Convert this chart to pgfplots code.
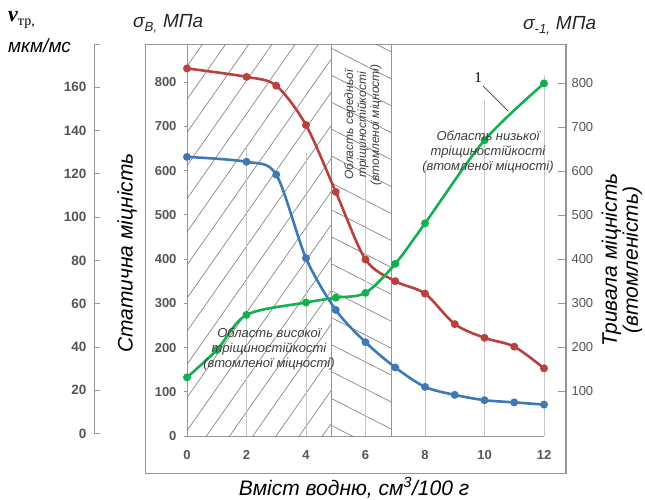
\documentclass[border=0pt]{standalone}
\usepackage{pgfplots}
\pgfplotsset{compat=1.18}
\usepackage{fontspec}
\setmainfont{Liberation Sans}
\newfontfamily\serif{Liberation Serif}
\usetikzlibrary{patterns.meta}

\definecolor{cred}{RGB}{184,64,62}
\definecolor{cblue}{RGB}{62,120,182}
\definecolor{cgreen}{RGB}{20,176,80}
\definecolor{axgray}{RGB}{150,150,150}
\definecolor{tickgray}{RGB}{85,85,85}
\definecolor{hatch}{RGB}{120,120,120}
\definecolor{txt}{RGB}{60,60,60}

\begin{document}
\begin{tikzpicture}
% frame
\draw[axgray, line width=0.8pt] (145pt,26pt) rectangle (566pt,455pt);

% speed axis (far left)
\begin{axis}[at={(94pt,65.5pt)}, anchor=south west, scale only axis,
  width=10pt, height=389.5pt, xmin=0, xmax=1, ymin=0, ymax=180,
  axis x line=none, axis y line=left, axis line style={axgray, line width=0.8pt, -},
  ytick={0,20,...,180}, yticklabels={0,20,40,60,80,100,120,140,160,},
  tick align=inside, major tick length=6pt, tick style={axgray, line width=0.8pt},
  yticklabel style={font=\fontsize{13.5}{14}\selectfont\bfseries, text=tickgray, xshift=-4pt}]
\end{axis}

% static strength axis
\begin{axis}[at={(187pt,63pt)}, anchor=south west, scale only axis,
  width=357pt, height=391pt, xmin=0, xmax=12, ymin=0, ymax=884,
  axis x line=bottom, axis y line=left, axis line style={axgray, line width=0.8pt, -},
  xtick={0,2,...,12}, ytick={0,100,...,800},
  x tick style={draw=none}, y tick style={axgray, line width=0.8pt},
  tick align=outside, major tick length=3pt,
  ticklabel style={font=\fontsize{13}{14}\selectfont\bfseries, text=tickgray},
  xticklabel style={yshift=-8pt}, yticklabel style={xshift=-4pt},
  /pgf/number format/assume math mode=true, clip=false]
\fill[pattern={Lines[angle=55,distance=19pt,line width=0.6pt]}, pattern color=hatch]
  (axis cs:0,0) rectangle (axis cs:4.87,884);
\fill[pattern={Lines[angle=-27,distance=24pt,line width=0.6pt]}, pattern color=hatch]
  (axis cs:4.87,0) rectangle (axis cs:6.89,884);
\draw[gray!45, line width=0.8pt] (axis cs:2,0) -- (axis cs:2,653);
\draw[gray!45, line width=0.8pt] (axis cs:4,0) -- (axis cs:4,640);
\draw[gray!45, line width=0.8pt] (axis cs:6,0) -- (axis cs:6,590);
\draw[gray!45, line width=0.8pt] (axis cs:8,0) -- (axis cs:8,606);
\draw[gray!45, line width=0.8pt] (axis cs:10,0) -- (axis cs:10,759);
\draw[gray!45, line width=0.8pt] (axis cs:12,0) -- (axis cs:12,816);
\draw[gray!85, line width=1pt] (axis cs:4.87,0) -- (axis cs:4.87,884);
\draw[gray!85, line width=1pt] (axis cs:6.89,0) -- (axis cs:6.89,884);
\addplot[cred, line width=2.6pt, smooth, tension=0.5, mark=*, mark size=2.6pt]
  coordinates {(0,831)(2,812)(3,792)(4,703)(5,552)(6,399)(7,350)(8,322)(9,253)(10,222)(11,202)(12,153)};
\addplot[cblue, line width=2.6pt, smooth, tension=0.5, mark=*, mark size=2.6pt]
  coordinates {(0,631)(2,620)(3,591)(4,402)(5,285)(6,212)(7,155)(8,111)(9,93)(10,81)(11,76)(12,71)};
\end{axis}

% fatigue strength axis (right)
\begin{axis}[at={(187pt,26pt)}, anchor=south west, scale only axis,
  width=378pt, height=429pt, xmin=0, xmax=12.706, ymin=-86.4, ymax=888.6,
  axis x line=none, axis y line=right, axis line style={axgray, line width=0.8pt, -},
  ytick={100,200,...,800}, tick align=inside, major tick length=7pt,
  tick style={axgray, line width=0.8pt},
  yticklabel style={font=\fontsize{13}{14}\selectfont, text=tickgray, xshift=3pt},
  /pgf/number format/assume math mode=true, clip=false]
\addplot[cgreen, line width=2.6pt, smooth, tension=0.5, mark=*, mark size=2.6pt]
  coordinates {(0,131)(1,193)(2,273)(4,301)(5,312)(6,323)(7,389)(8,481)(10,670)(12,799)};
\end{axis}

% region texts
\node[align=center, text=txt, font=\fontsize{13}{15}\selectfont\itshape] at (269pt,150pt)
  {Область високої\\тріщиностійкості\\(втомленої міцності)};
\node[align=center, text=txt, rotate=90, font=\fontsize{12}{13}\selectfont\itshape] at (363pt,374pt)
  {Область середньої\\тріщиностійкості\\(втомленої міцності)};
\node[align=center, text=txt, font=\fontsize{13}{15}\selectfont\itshape] at (488pt,347pt)
  {Область низької\\тріщиностійкості\\(втомленої міцності)};
\node[font=\fontsize{15}{15}\selectfont\serif] at (478pt,421pt) {1};
\draw[black!75, line width=0.7pt] (483pt,413pt) -- (508pt,388pt);

% axis titles
\node[rotate=90, font=\fontsize{21}{21}\selectfont\itshape] at (127pt,246pt) {Статична міцність};
\node[rotate=90, align=center, font=\fontsize{21}{21}\selectfont\itshape] at (622pt,239pt)
  {Тривала міцність\\(втомленість)};
\node[anchor=base, font=\fontsize{21}{21}\selectfont\itshape] at (354pt,4pt)
  {Вміст водню, см\textsuperscript{3}/100 г};
\node[anchor=base west, inner sep=0pt, font=\fontsize{19}{19}\selectfont\itshape, text=black!85] at (133pt,471pt)
  {σ\textsubscript{B,} МПа};
\node[anchor=base west, inner sep=0pt, font=\fontsize{19}{19}\selectfont\itshape, text=black!85] at (523pt,469pt)
  {σ\textsubscript{-1,} МПа};
\node[anchor=base west, inner sep=0pt] at (8pt,477pt)
  {\fontsize{22}{22}\selectfont\serif\bfseries\itshape v\raisebox{-4pt}{\fontsize{14}{14}\selectfont\mdseries\upshape тр,}};
\node[anchor=base west, inner sep=0pt, font=\fontsize{19}{19}\selectfont\itshape] at (8pt,446pt) {мкм/мс};

\pgfresetboundingbox
\path[use as bounding box] (0pt,0pt) rectangle (645pt,499pt);
\end{tikzpicture}
\end{document}
